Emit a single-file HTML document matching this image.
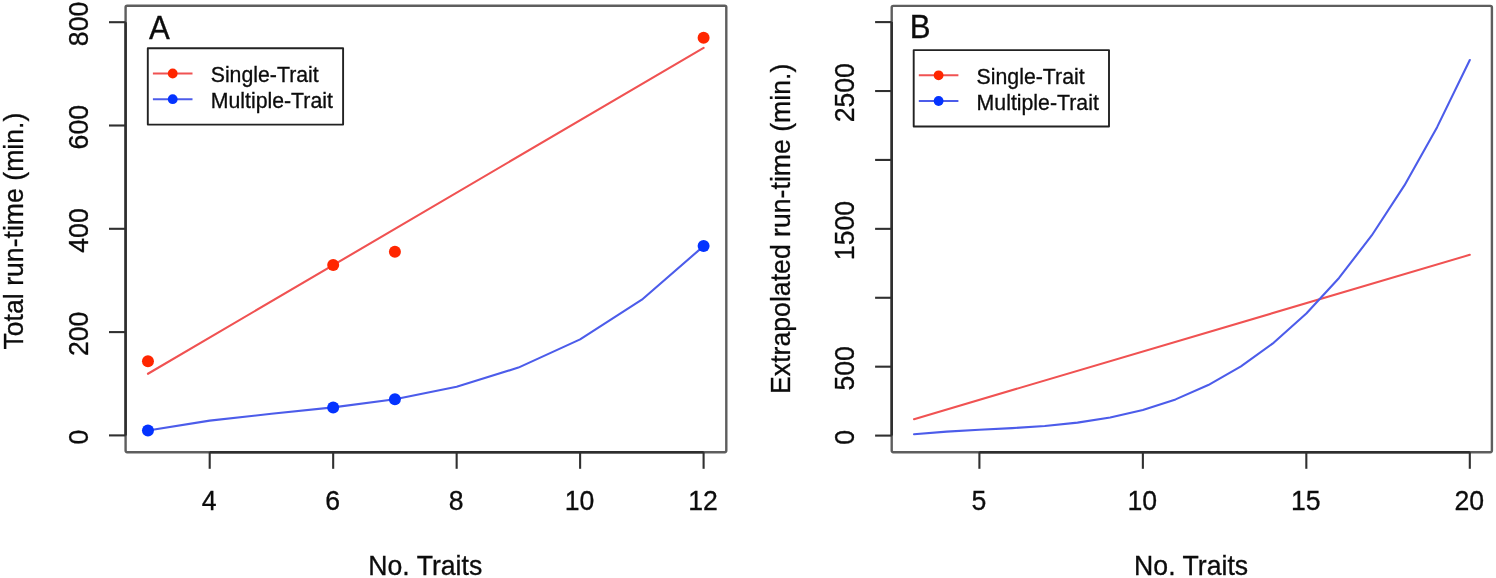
<!DOCTYPE html>
<html><head><meta charset="utf-8"><title>Run-time</title>
<style>
html,body{margin:0;padding:0;background:#fff;}
body{width:1496px;height:578px;overflow:hidden;}
svg{display:block;will-change:transform;filter:blur(0.45px);}
svg text{font-family:"Liberation Sans",sans-serif;fill:#0c0c0c;stroke:#0c0c0c;stroke-width:0.3px;}
</style></head><body>
<svg width="1496" height="578" viewBox="0 0 1496 578">
<rect width="1496" height="578" fill="#fff"/>
<g>
<rect x="125.6" y="5.75" width="600.7" height="446.45" rx="1.6" fill="none" stroke="#5e5e5e" stroke-width="2.4" stroke-linejoin="round"/>
<path d="M209.7 452.2H703.6" stroke="#2e2e2e" stroke-width="2.5" fill="none"/>
<path d="M209.7 452.2V468.8" stroke="#303030" stroke-width="2.1" fill="none"/>
<text transform="translate(209.1 509.7) scale(1 1.045)" font-size="26.65" text-anchor="middle">4</text>
<path d="M333.18 452.2V468.8" stroke="#303030" stroke-width="2.1" fill="none"/>
<text transform="translate(332.57 509.7) scale(1 1.045)" font-size="26.65" text-anchor="middle">6</text>
<path d="M456.65 452.2V468.8" stroke="#303030" stroke-width="2.1" fill="none"/>
<text transform="translate(456.05 509.7) scale(1 1.045)" font-size="26.65" text-anchor="middle">8</text>
<path d="M580.12 452.2V468.8" stroke="#303030" stroke-width="2.1" fill="none"/>
<text transform="translate(579.52 509.7) scale(1 1.045)" font-size="26.65" text-anchor="middle">10</text>
<path d="M703.6 452.2V468.8" stroke="#303030" stroke-width="2.1" fill="none"/>
<text transform="translate(703 509.7) scale(1 1.045)" font-size="26.65" text-anchor="middle">12</text>
<path d="M125.6 435.4V22.2" stroke="#2e2e2e" stroke-width="2.5" fill="none"/>
<path d="M125.6 435.4H109" stroke="#303030" stroke-width="2.1" fill="none"/>
<text transform="translate(88.1 437.1) rotate(-90) scale(1 1.045)" font-size="26.65" text-anchor="middle">0</text>
<path d="M125.6 332.1H109" stroke="#303030" stroke-width="2.1" fill="none"/>
<text transform="translate(88.1 333.8) rotate(-90) scale(1 1.045)" font-size="26.65" text-anchor="middle">200</text>
<path d="M125.6 228.8H109" stroke="#303030" stroke-width="2.1" fill="none"/>
<text transform="translate(88.1 230.5) rotate(-90) scale(1 1.045)" font-size="26.65" text-anchor="middle">400</text>
<path d="M125.6 125.5H109" stroke="#303030" stroke-width="2.1" fill="none"/>
<text transform="translate(88.1 127.2) rotate(-90) scale(1 1.045)" font-size="26.65" text-anchor="middle">600</text>
<path d="M125.6 22.2H109" stroke="#303030" stroke-width="2.1" fill="none"/>
<text transform="translate(88.1 23.9) rotate(-90) scale(1 1.045)" font-size="26.65" text-anchor="middle">800</text>
<text transform="translate(425.25 574.8) scale(1 1.045)" font-size="26.65" text-anchor="middle">No. Traits</text>
<text transform="translate(22.8 231.1) rotate(-90) scale(1 1.045)" font-size="26.65" text-anchor="middle">Total run-time (min.)</text>
<text transform="translate(149 38.7) scale(1 1.075)" font-size="31.2">A</text>
<path d="M147.96 373.78L703.6 47.81" stroke="#F05252" stroke-width="2.1" fill="none" stroke-linecap="round"/>
<path d="M147.96 430.49L209.7 420.64L271.44 413.75L333.18 407.41L394.91 399.21L456.65 386.75L518.39 367.62L580.12 339.4L641.86 299.7L703.6 246.1" stroke="#4C5CEA" stroke-width="2.1" fill="none" stroke-linejoin="round" stroke-linecap="round"/>
<circle cx="147.96" cy="361.18" r="6.0" fill="#FF2600"/>
<circle cx="333.18" cy="264.95" r="6.0" fill="#FF2600"/>
<circle cx="394.91" cy="251.78" r="6.0" fill="#FF2600"/>
<circle cx="703.6" cy="37.69" r="6.0" fill="#FF2600"/>
<circle cx="147.96" cy="430.49" r="6.0" fill="#0433FF"/>
<circle cx="333.18" cy="407.41" r="6.0" fill="#0433FF"/>
<circle cx="394.91" cy="399.21" r="6.0" fill="#0433FF"/>
<circle cx="703.6" cy="246.1" r="6.0" fill="#0433FF"/>
<rect x="147.8" y="48.3" width="195.3" height="76.3" fill="#fff" stroke="#222" stroke-width="1.9" stroke-linejoin="round"/>
<path d="M152.9 73.5H192.5" stroke="#F05252" stroke-width="2.1" fill="none"/>
<circle cx="172.7" cy="73.5" r="4.9" fill="#FF2600"/>
<text transform="translate(210.7 82.4) scale(1 1.045)" font-size="21.3">Single-Trait</text>
<path d="M152.9 99.2H192.5" stroke="#4C5CEA" stroke-width="2.1" fill="none"/>
<circle cx="172.7" cy="99.2" r="4.9" fill="#0433FF"/>
<text transform="translate(210.7 108.1) scale(1 1.045)" font-size="21.3">Multiple-Trait</text>
</g>
<g>
<rect x="891.7" y="5.85" width="600.2" height="446.35" rx="1.6" fill="none" stroke="#5e5e5e" stroke-width="2.4" stroke-linejoin="round"/>
<path d="M979.4 452.2H1469.8" stroke="#2e2e2e" stroke-width="2.5" fill="none"/>
<path d="M979.4 452.2V468.8" stroke="#303030" stroke-width="2.1" fill="none"/>
<text transform="translate(978.8 509.7) scale(1 1.045)" font-size="26.65" text-anchor="middle">5</text>
<path d="M1142.87 452.2V468.8" stroke="#303030" stroke-width="2.1" fill="none"/>
<text transform="translate(1142.27 509.7) scale(1 1.045)" font-size="26.65" text-anchor="middle">10</text>
<path d="M1306.33 452.2V468.8" stroke="#303030" stroke-width="2.1" fill="none"/>
<text transform="translate(1305.73 509.7) scale(1 1.045)" font-size="26.65" text-anchor="middle">15</text>
<path d="M1469.8 452.2V468.8" stroke="#303030" stroke-width="2.1" fill="none"/>
<text transform="translate(1469.2 509.7) scale(1 1.045)" font-size="26.65" text-anchor="middle">20</text>
<path d="M891.7 435.6V22.1" stroke="#2e2e2e" stroke-width="2.5" fill="none"/>
<path d="M891.7 435.6H875.1" stroke="#303030" stroke-width="2.1" fill="none"/>
<text transform="translate(854.2 437.3) rotate(-90) scale(1 1.045)" font-size="26.65" text-anchor="middle">0</text>
<path d="M891.7 366.68H875.1" stroke="#303030" stroke-width="2.1" fill="none"/>
<text transform="translate(854.2 368.38) rotate(-90) scale(1 1.045)" font-size="26.65" text-anchor="middle">500</text>
<path d="M891.7 297.77H875.1" stroke="#303030" stroke-width="2.1" fill="none"/>
<path d="M891.7 228.85H875.1" stroke="#303030" stroke-width="2.1" fill="none"/>
<text transform="translate(854.2 230.55) rotate(-90) scale(1 1.045)" font-size="26.65" text-anchor="middle">1500</text>
<path d="M891.7 159.93H875.1" stroke="#303030" stroke-width="2.1" fill="none"/>
<path d="M891.7 91.02H875.1" stroke="#303030" stroke-width="2.1" fill="none"/>
<text transform="translate(854.2 92.72) rotate(-90) scale(1 1.045)" font-size="26.65" text-anchor="middle">2500</text>
<path d="M891.7 22.1H875.1" stroke="#303030" stroke-width="2.1" fill="none"/>
<text transform="translate(1191.1 574.8) scale(1 1.045)" font-size="26.65" text-anchor="middle">No. Traits</text>
<text transform="translate(790 228.8) rotate(-90) scale(1 1.045)" font-size="26.65" text-anchor="middle">Extrapolated run-time (min.)</text>
<text transform="translate(909.8 38.3) scale(1 1.075)" font-size="31.2">B</text>
<path d="M914.01 419.16L1469.8 254.84" stroke="#F05252" stroke-width="2.1" fill="none" stroke-linecap="round"/>
<path d="M914.01 434.29L946.71 431.66L979.4 429.82L1012.09 428.13L1044.79 425.94L1077.48 422.62L1110.17 417.51L1142.87 409.98L1175.56 399.39L1208.25 385.08L1240.95 366.43L1273.64 342.78L1306.33 313.5L1339.03 277.94L1371.72 235.45L1404.41 185.4L1437.11 127.15L1469.8 60.04" stroke="#4C5CEA" stroke-width="2.1" fill="none" stroke-linejoin="round" stroke-linecap="round"/>
<rect x="913.7" y="50.1" width="195.3" height="76.4" fill="#fff" stroke="#222" stroke-width="1.9" stroke-linejoin="round"/>
<path d="M918.8 75.3H958.4" stroke="#F05252" stroke-width="2.1" fill="none"/>
<circle cx="938.6" cy="75.3" r="4.9" fill="#FF2600"/>
<text transform="translate(976.6 84.2) scale(1 1.045)" font-size="21.3">Single-Trait</text>
<path d="M918.8 101H958.4" stroke="#4C5CEA" stroke-width="2.1" fill="none"/>
<circle cx="938.6" cy="101" r="4.9" fill="#0433FF"/>
<text transform="translate(976.6 109.9) scale(1 1.045)" font-size="21.3">Multiple-Trait</text>
</g>
</svg>
</body></html>
